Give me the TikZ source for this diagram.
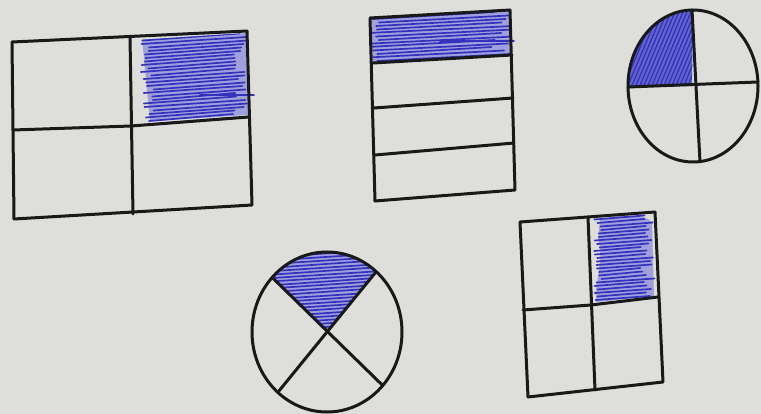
\documentclass[tikz,border=0pt]{standalone}
\definecolor{paper}{RGB}{222,222,219}
\definecolor{bluelight}{RGB}{160,160,220}
\definecolor{bluedark}{RGB}{100,100,205}
\definecolor{penblue}{RGB}{50,50,190}
\begin{document}
\begin{tikzpicture}[x=1pt,y=-1pt,
  ink/.style={line width=3pt,black!90,line join=round,line cap=round},
  bluefill/.style={fill=bluelight},
  pen/.style={line width=1.7pt,draw=penblue,line cap=round}]
\pgfmathsetseed{7}
\fill[paper] (0,0) rectangle (761,414);
\useasboundingbox (0,0) rectangle (761,414);

% ---------- shape 1: square in quarters, top-right shaded
\begin{scope}
\clip (137,40) -- (246,33) -- (249,118) -- (135,124) -- cycle;
\fill[bluefill] (142,38) -- (246,33) -- (248,115) -- (150,121) -- cycle;
\foreach \y in {34,37.5,...,130} {
  \pgfmathsetmacro{\a}{140+14*rnd}
  \pgfmathsetmacro{\b}{232+16*rnd}
  \draw[pen] (\a,\y+3) -- (\b,\y-4);}
\end{scope}
\draw[pen] (200,95) -- (254,95);
\draw[ink] (12,42) -- (247,31) -- (252,205) -- (14,219) -- cycle;
\draw[ink] (130,37) -- (133,214);
\draw[ink] (13,130) -- (131,126) -- (249,117);

% ---------- shape 2: rectangle in four strips, top shaded
\begin{scope}
\clip (371,19) -- (510,11) -- (512,55) -- (373,63) -- cycle;
\fill[bluefill] (350,0) rectangle (530,80);
\foreach \y in {16,19.5,...,66} {
  \pgfmathsetmacro{\a}{368+12*rnd}
  \pgfmathsetmacro{\b}{490+25*rnd}
  \draw[pen] (\a,\y+3) -- (\b,\y-4);}
\end{scope}
\draw[pen] (440,41) -- (514,41);
\draw[ink] (370,18) -- (510,10) -- (515,190) -- (375,201) -- cycle;
\draw[ink] (373,63) -- (512,55);
\draw[ink] (374,108) -- (513,98);
\draw[ink] (375,155) -- (514,143);

% ---------- shape 3: circle in quarters, top-left shaded
\coordinate (c3) at (693,86);
\begin{scope}
\clip (692,86) -- (628,87) arc[start angle=180,end angle=90,x radius=65pt,y radius=76pt] -- cycle;
\fill[bluedark] (600,0) rectangle (700,100);
\foreach \x in {600,604,...,720} \draw[pen,line width=1.3pt] (\x,95) -- (\x+40,0);
\end{scope}
\draw[ink] (c3) ellipse [x radius=65pt,y radius=76pt];
\draw[ink] (692,10) -- (700,162);
\draw[ink] (628,87) -- (758,82);

% ---------- shape 4: circle cut by a cross, top wedge shaded
\coordinate (c4) at (327,332);
\coordinate (ul) at ([shift={(c4)}]137:75pt and 80pt);
\coordinate (ur) at ([shift={(c4)}]49:75pt and 80pt);
\coordinate (ll) at ([shift={(c4)}]229:75pt and 80pt);
\coordinate (lr) at ([shift={(c4)}]318:75pt and 80pt);
\coordinate (x4) at (328,332);
\begin{scope}
\clip (x4) -- (ul) arc[start angle=137,end angle=49,x radius=75pt,y radius=80pt] -- cycle;
\fill[bluefill] (250,240) rectangle (400,340);
\foreach \y in {250,253.5,...,336} {
  \pgfmathsetmacro{\a}{262+10*rnd}
  \pgfmathsetmacro{\b}{380+12*rnd}
  \draw[pen] (\a,\y+4) -- (\b,\y-4);}
\end{scope}
\draw[ink] (c4) ellipse [x radius=75pt,y radius=80pt];
\draw[ink] (ul) -- (lr);
\draw[ink] (ur) -- (ll);

% ---------- shape 5: square in quarters, top-right shaded
\begin{scope}
\clip (592,217) -- (653,213) -- (656,297) -- (593,304) -- cycle;
\fill[bluefill] (600,220) .. controls (620,214) and (645,214) .. (652,222)
  -- (654,296) -- (596,302) .. controls (594,280) and (605,260) .. (598,240) -- cycle;
\foreach \y in {214,217.5,...,306} {
  \pgfmathsetmacro{\a}{594+8*rnd}
  \pgfmathsetmacro{\b}{640+15*rnd}
  \draw[pen] (\a,\y+2) -- (\b,\y-2);}
\end{scope}
\draw[ink] (520,222) -- (655,212) -- (663,382) -- (528,397) -- cycle;
\draw[ink] (588,217) -- (595,390);
\draw[ink] (523,310) -- (591,305) -- (658,297);
\end{tikzpicture}
\end{document}
